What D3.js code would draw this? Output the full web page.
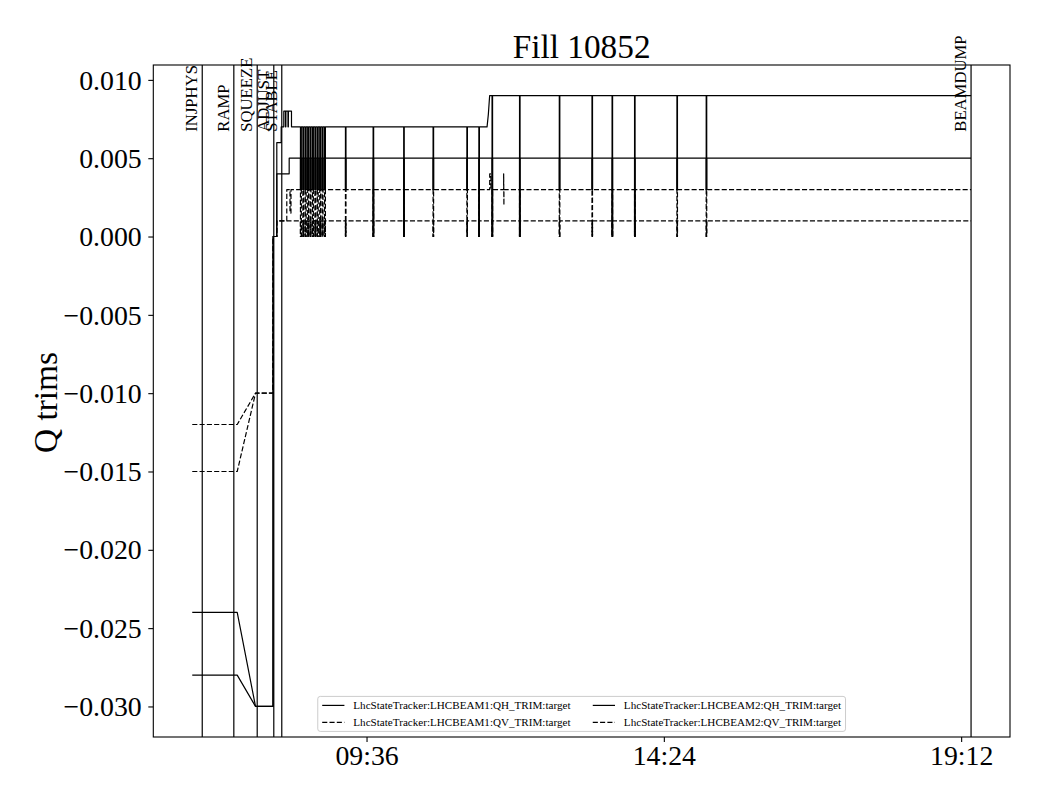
<!DOCTYPE html>
<html><head><meta charset="utf-8">
<script src="https://cdn.jsdelivr.net/npm/d3@7"></script>
<style>
body{margin:0;background:#fff;}
svg{display:block;font-family:"Liberation Serif","Times New Roman",serif;}
</style>
</head><body>
<svg id="chart" width="1040" height="800"></svg>
<script>
// ---------------- data ----------------
const chartTitle = "Fill 10852";
const yLabel = "Q trims";
const seriesNames = [
  "LhcStateTracker:LHCBEAM1:QH_TRIM:target",
  "LhcStateTracker:LHCBEAM1:QV_TRIM:target",
  "LhcStateTracker:LHCBEAM2:QH_TRIM:target",
  "LhcStateTracker:LHCBEAM2:QV_TRIM:target"
];
const xTickLabels = ["09:36", "14:24", "19:12"];
const yTickValues = [0.010, 0.005, 0.000, -0.005, -0.010, -0.015, -0.020, -0.025, -0.030];
const phaseNames = ["INJPHYS", "RAMP", "SQUEEZE", "ADJUST", "STABLE", "BEAMDUMP"];
const phaseTimes = ["06:56:51", "07:27:27", "07:50:06", "08:06:10", "08:13:54", "19:21:36"];

// logged trim settings [time, value]
const b1QH = [
  ["06:47:10", -0.024], ["07:30:44", -0.024], ["07:48:27", -0.030], ["08:05:23", -0.030],
  ["08:05:30", 0.000], ["08:09:04", 0.000], ["08:09:05", 0.006], ["08:13:20", 0.006],
  ["08:13:21", 0.007], ["08:15:51", 0.007], ["08:15:52", 0.008], ["08:17:29", 0.008],
  ["08:17:30", 0.007], ["08:17:52", 0.007], ["08:17:53", 0.008], ["08:19:54", 0.008],
  ["08:19:55", 0.007], ["08:20:17", 0.007], ["08:20:18", 0.008], ["08:23:18", 0.008],
  ["08:23:19", 0.007], ["11:32:45", 0.007], ["11:34:00", 0.0078], ["11:35:16", 0.009],
  ["19:21:36", 0.009]
];
const b1QV = [
  ["06:47:10", -0.012], ["07:30:44", -0.012], ["07:48:27", -0.010], ["08:05:23", -0.010],
  ["08:05:30", 0.000], ["08:09:04", 0.000], ["08:09:05", 0.001], ["08:18:45", 0.001],
  ["08:18:46", 0.003], ["08:21:51", 0.003], ["08:21:52", 0.0015], ["08:22:49", 0.0015],
  ["08:22:50", 0.003], ["11:35:19", 0.003], ["11:35:20", 0.004], ["11:36:30", 0.004],
  ["11:36:31", 0.003], ["11:48:49", 0.003], ["11:48:50", 0.004], ["11:49:05", 0.002],
  ["11:49:06", 0.003], ["19:21:36", 0.003]
];
const b2QH = [
  ["06:47:10", -0.028], ["07:30:44", -0.028], ["07:48:27", -0.030], ["08:05:23", -0.030],
  ["08:05:30", 0.000], ["08:09:04", 0.000], ["08:09:05", 0.004], ["08:21:04", 0.004],
  ["08:21:05", 0.005], ["19:21:36", 0.005]
];
const b2QV = [
  ["06:47:10", -0.015], ["07:30:44", -0.015], ["07:48:27", -0.010], ["08:05:23", -0.010],
  ["08:05:30", 0.000], ["08:09:04", 0.000], ["08:09:05", 0.001], ["19:21:36", 0.001]
];
// short periods where all trims dropped to zero [start, end]
const fullResets = [
  ["09:42:23", "09:42:53"], ["10:12:01", "10:12:31"], ["11:24:49", "11:25:19"],
  ["11:37:35", "11:38:05"], ["12:04:13", "12:04:43"], ["13:33:51", "13:34:21"],
  ["13:55:38", "13:56:08"]
];
// short periods where QV trims dropped to zero and QH trims to partialQHLevel
const partialResets = [
  ["08:32:00", "08:32:50"], ["08:34:20", "08:35:10"], ["08:36:40", "08:37:30"],
  ["08:39:00", "08:39:50"], ["08:41:20", "08:42:10"], ["08:43:40", "08:44:30"],
  ["08:46:00", "08:46:50"], ["08:48:20", "08:49:10"], ["08:50:40", "08:51:30"],
  ["08:53:00", "08:53:50"], ["08:55:20", "08:56:10"],
  ["09:15:35", "09:16:05"], ["10:40:28", "10:40:58"], ["11:13:12", "11:13:42"],
  ["12:42:44", "12:43:14"], ["13:14:24", "13:14:54"], ["14:36:41", "14:37:11"],
  ["15:05:02", "15:05:32"]
];
const partialQHLevel = 0.003;

const seriesData = [b1QH, b1QV, b2QH, b2QV];
const seriesIsQH = [true, false, true, false];
const seriesDashed = [false, true, false, true];

// ---------------- drawing ----------------
const parseT = d3.timeParse("%H:%M:%S");
const parseTick = d3.timeParse("%H:%M");

function withResets(levels, isQH) {
  const pts = levels.map(([t, v]) => [parseT(t), v, -1]);
  const held = t => { let v = pts[0][1]; for (const p of pts) { if (p[0] <= t) v = p[1]; } return v; };
  const extra = [];
  const add = (s, e, low) => {
    const ts = parseT(s), te = parseT(e);
    extra.push([ts, held(ts), 0], [ts, low, 1], [te, low, 2], [te, held(te), 3]);
  };
  fullResets.forEach(([s, e]) => add(s, e, 0));
  partialResets.forEach(([s, e]) => add(s, e, isQH ? partialQHLevel : 0));
  return pts.concat(extra).sort((a, b) => (a[0] - b[0]) || (a[2] - b[2]));
}

const svg = d3.select("#chart");
const L = 153.3, R = 1010, T = 65, B = 737;

const lines = seriesData.map((s, i) => withResets(s, seriesIsQH[i]));
const flat = lines.flat();
const tExt = d3.extent(flat, d => d[0]);
const vExt = d3.extent(flat, d => d[1]);
const tPad = (tExt[1] - tExt[0]) * 0.05;
const vPad = (vExt[1] - vExt[0]) * 0.05;
const x = d3.scaleTime().domain([new Date(+tExt[0] - tPad), new Date(+tExt[1] + tPad)]).range([L, R]);
const y = d3.scaleLinear().domain([vExt[0] - vPad, vExt[1] + vPad]).range([B, T]);

svg.append("rect").attr("x", 0).attr("y", 0).attr("width", 1040).attr("height", 800).attr("fill", "#fff");

svg.append("defs").append("clipPath").attr("id", "clip")
  .append("rect").attr("x", L).attr("y", T).attr("width", R - L).attr("height", B - T);

const lineGen = d3.line().x(d => x(d[0])).y(d => y(d[1]));
const gLines = svg.append("g").attr("clip-path", "url(#clip)");
lines.forEach((pts, i) => {
  gLines.append("path")
    .attr("d", lineGen(pts))
    .attr("fill", "none")
    .attr("stroke", "#000")
    .attr("stroke-width", 1.2)
    .attr("stroke-linejoin", "round")
    .attr("stroke-dasharray", seriesDashed[i] ? "5.1,2.2" : null);
});

// phase markers
const gPh = svg.append("g");
phaseNames.forEach((name, i) => {
  const px = x(parseT(phaseTimes[i]));
  gPh.append("line").attr("x1", px).attr("x2", px).attr("y1", T).attr("y2", B)
    .attr("stroke", "#000").attr("stroke-width", 1.2);
  gPh.append("text")
    .attr("transform", `translate(${px - 5},131.7) rotate(-90)`)
    .attr("text-anchor", "start")
    .attr("font-size", "16.67px")
    .attr("fill", "#000")
    .text(name);
});

// axes
const fsTick = 27.8;
const xAxis = d3.axisBottom(x)
  .tickValues(xTickLabels.map(parseTick))
  .tickFormat(d3.timeFormat("%H:%M"))
  .tickSize(4.9).tickPadding(3.4);
const gx = svg.append("g").attr("transform", `translate(0,${B})`).call(xAxis);
gx.select(".domain").remove();
gx.selectAll(".tick line").attr("stroke", "#000").attr("stroke-width", 1.1);
gx.selectAll(".tick text").attr("font-size", fsTick + "px").attr("font-family", "Liberation Serif, serif").attr("fill", "#000").attr("dy", "0.71em");

const yAxis = d3.axisLeft(y)
  .tickValues(yTickValues)
  .tickFormat(d3.format(".3f"))
  .tickSize(5).tickPadding(6.6);
const gy = svg.append("g").attr("transform", `translate(${L},0)`).call(yAxis);
gy.select(".domain").remove();
gy.selectAll(".tick line").attr("stroke", "#000").attr("stroke-width", 1.1);
gy.selectAll(".tick text").attr("font-size", fsTick + "px").attr("font-family", "Liberation Serif, serif").attr("fill", "#000").attr("dy", "0.33em");

// frame
svg.append("rect").attr("x", L).attr("y", T).attr("width", R - L).attr("height", B - T)
  .attr("fill", "none").attr("stroke", "#000").attr("stroke-width", 1.1);

// title & y label
svg.append("text").attr("x", (L + R) / 2).attr("y", 58).attr("text-anchor", "middle")
  .attr("font-size", "33.3px").attr("fill", "#000").text(chartTitle);
svg.append("text").attr("transform", `translate(57,${(T + B) / 2 + 1.5}) rotate(-90)`)
  .attr("text-anchor", "middle").attr("font-size", "33.3px").attr("fill", "#000").text(yLabel);

// legend (matplotlib-like, lower center, 2 columns)
const fsL = 11.11;
const pad = 0.4 * fsL, hLen = 2 * fsL, hPad = 0.8 * fsL, colSp = 2 * fsL;
const gL = svg.append("g");
const boxRect = gL.append("rect");
const meas = gL.append("text").attr("font-size", fsL + "px").text("");
const widths = seriesNames.map(n => { meas.text(n); return meas.node().getComputedTextLength(); });
meas.remove();
const colW = [Math.max(widths[0], widths[1]), Math.max(widths[2], widths[3])];
const boxW = pad * 2 + (hLen + hPad) * 2 + colW[0] + colW[1] + colSp;
const boxH = 35;
const boxX = (L + R) / 2 - boxW / 2;
const boxY = B - 5.6 - boxH;
boxRect.attr("x", boxX).attr("y", boxY).attr("width", boxW).attr("height", boxH)
  .attr("rx", 2.5).attr("fill", "#fff").attr("fill-opacity", 0.8)
  .attr("stroke", "#cccccc").attr("stroke-width", 1);
seriesNames.forEach((n, i) => {
  const col = Math.floor(i / 2), row = i % 2;
  const cx = boxX + pad + (col === 0 ? 0 : (hLen + hPad + colW[0] + colSp));
  const cy = boxY + 9 + row * 17;
  gL.append("line").attr("x1", cx).attr("x2", cx + hLen).attr("y1", cy).attr("y2", cy)
    .attr("stroke", "#000").attr("stroke-width", 1.2)
    .attr("stroke-dasharray", seriesDashed[i] ? "5.1,2.2" : null);
  gL.append("text").attr("x", cx + hLen + hPad).attr("y", cy + 3.8)
    .attr("font-size", fsL + "px").attr("fill", "#000").text(n);
});
</script>
</body></html>
